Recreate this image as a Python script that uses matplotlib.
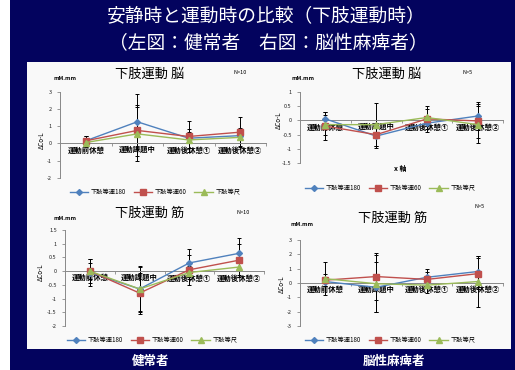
# coding: utf-8
# Comparison of rest and exercise (lower limb), healthy vs. cerebral palsy

import numpy as np
import matplotlib
matplotlib.use('Agg')
from matplotlib import pyplot as plt
from matplotlib.patches import Rectangle

plt.rcParams['font.family'] = ['Noto Sans CJK JP', 'DejaVu Sans']

# Data
categories = ['運動前休憩', '運動課題中', '運動後休憩①', '運動後休憩②']
series_names = ['下肢等速180', '下肢等速60', '下肢等尺']

# healthy, brain
hb_180 = [0.15, 1.25, 0.3, 0.45]
hb_60 = [0.15, 0.75, 0.4, 0.65]
hb_iso = [0.05, 0.55, 0.2, 0.35]
hb_180_err = [0.3, 1.6, 0.55, 0.45]
hb_60_err = [0.25, 1.45, 0.9, 0.85]
hb_iso_err = [0.25, 1.55, 0.45, 0.5]

# cerebral palsy, brain
cb_180 = [0.05, -0.55, -0.1, 0.15]
cb_60 = [-0.2, -0.5, 0.05, -0.02]
cb_iso = [-0.15, -0.15, 0.1, -0.15]
cb_180_err = [0.25, 0.4, 0.2, 0.5]
cb_60_err = [0.5, 0.4, 0.45, 0.6]
cb_iso_err = [0.35, 0.75, 0.3, 0.65]

# healthy, muscle
hm_180 = [-0.05, -0.65, 0.3, 0.65]
hm_60 = [0.0, -0.8, 0.05, 0.4]
hm_iso = [0.0, -0.65, -0.05, 0.15]
hm_180_err = [0.5, 0.85, 0.5, 0.55]
hm_60_err = [0.45, 0.75, 0.55, 0.6]
hm_iso_err = [0.3, 0.8, 0.25, 0.3]

# cerebral palsy, muscle
cm_180 = [0.1, -0.3, 0.4, 0.8]
cm_60 = [0.2, 0.45, 0.25, 0.65]
cm_iso = [0.3, -0.05, -0.15, 0.1]
cm_180_err = [0.3, 1.75, 0.6, 1.1]
cm_60_err = [0.4, 1.65, 0.55, 1.1]
cm_iso_err = [1.15, 2.0, 0.55, 1.75]

W, H = 515.0, 370.0
colors = ['#4F81BD', '#C0504D', '#9BBB59']
markers = ['D', 's', '^']
msizes = [3, 4.5, 4.5]


def fx(px):
    return px / W


def fy(py):
    return 1 - py / H


def panel(box, series, errs, ylim, ystep, title, title_xy, n_text, n_xy,
          unit_xy, ylab_xy, leg_xy, xlabel_xy=None):
    x0, y0, x1, y1 = box
    ax = fig.add_axes([fx(x0), fy(y1), fx(x1 - x0), (y1 - y0) / H])
    ax.set_facecolor('none')
    x = np.arange(len(categories))
    for i in range(3):
        ax.errorbar(x, series[i], yerr=errs[i], fmt='none', ecolor='black',
                    elinewidth=0.7, capsize=1.5, capthick=0.7, zorder=2)
    for i in range(3):
        ax.plot(x, series[i], color=colors[i], marker=markers[i], ms=msizes[i],
                lw=1.0, label=series_names[i], zorder=3)
    ax.set_xlim(-0.5, 3.5)
    ax.set_ylim(ylim)
    ax.set_yticks(np.arange(ylim[0], ylim[1] + ystep / 2, ystep))
    ax.yaxis.set_major_formatter(matplotlib.ticker.FuncFormatter(lambda v, p: '%g' % v))
    ax.tick_params(axis='y', labelsize=4, length=2, width=0.6, color='#888888',
                   pad=4, labelcolor='#222222')
    ax.spines['left'].set_color('#888888')
    ax.spines['left'].set_linewidth(0.7)
    ax.spines['bottom'].set_position(('data', 0))
    ax.spines['bottom'].set_color('#888888')
    ax.spines['bottom'].set_linewidth(0.7)
    ax.spines['top'].set_visible(False)
    ax.spines['right'].set_visible(False)
    ax.set_xticks(x)
    ax.set_xticklabels(categories, fontsize=5.3, fontweight='bold')
    ax.set_xticks([0.5, 1.5, 2.5, 3.5], minor=True)
    ax.tick_params(axis='x', which='major', length=0, pad=2)
    ax.tick_params(axis='x', which='minor', length=2, width=0.6, color='#888888')
    fig.text(fx(title_xy[0]), fy(title_xy[1]), title, fontsize=9.5,
             ha='center', va='center')
    fig.text(fx(n_xy[0]), fy(n_xy[1]), n_text, fontsize=4, ha='center', va='center')
    fig.text(fx(unit_xy[0]), fy(unit_xy[1]), 'mM.mm', fontsize=4,
             fontweight='bold', ha='center', va='center')
    fig.text(fx(ylab_xy[0]), fy(ylab_xy[1]), 'ΔCo-L', fontsize=4.5,
             rotation=90, ha='center', va='center')
    if xlabel_xy is not None:
        fig.text(fx(xlabel_xy[0]), fy(xlabel_xy[1]), 'x 軸', fontsize=5,
                 fontweight='bold', ha='center', va='center')
    ax.legend(loc='center', bbox_to_anchor=(fx(leg_xy[0]), fy(leg_xy[1])),
              bbox_transform=fig.transFigure, ncol=3, frameon=False,
              fontsize=4.5, handlelength=3, columnspacing=1.2,
              handletextpad=0.4)
    return ax


fig = plt.figure(figsize=(W / 100, H / 100), dpi=100, facecolor='white')

# navy background and white panel
fig.patches.append(Rectangle((fx(10), 0), 1 - fx(10), 1, transform=fig.transFigure,
                             facecolor='#03035e', edgecolor='none', zorder=-2))
fig.patches.append(Rectangle((fx(27), fy(349)), fx(511 - 27), (349 - 62) / H,
                             transform=fig.transFigure, facecolor='#f9f9f9',
                             edgecolor='none', zorder=-1))

fig.text(fx(266), fy(16), '安静時と運動時の比較（下肢運動時）', color='white',
         fontsize=13.5, ha='center', va='center')
fig.text(fx(268), fy(44), '（左図：健常者　右図：脳性麻痺者）', color='white',
         fontsize=13.5, ha='center', va='center')
fig.text(fx(151), fy(361), '健常者', color='white', fontsize=9,
         fontweight='bold', ha='center', va='center')
fig.text(fx(394), fy(361), '脳性麻痺者', color='white', fontsize=9,
         fontweight='bold', ha='center', va='center')

panel((60, 91.5, 266, 178), [hb_180, hb_60, hb_iso], [hb_180_err, hb_60_err, hb_iso_err],
      (-2, 3), 1, '下肢運動 脳', (150, 74), 'N=10', (240, 73), (65, 79), (42, 140),
      (155, 192))
panel((300, 91.7, 503, 163.3), [cb_180, cb_60, cb_iso], [cb_180_err, cb_60_err, cb_iso_err],
      (-1.5, 1), 0.5, '下肢運動 脳', (387, 74), 'N=5', (468, 73), (303, 79), (279, 120),
      (390, 188), xlabel_xy=(400, 168))
panel((65, 230, 264, 326), [hm_180, hm_60, hm_iso], [hm_180_err, hm_60_err, hm_iso_err],
      (-2, 1.5), 0.5, '下肢運動 筋', (150, 213), 'N=10', (243, 213), (65, 218), (41, 272),
      (152, 340))
panel((300, 240, 503, 326), [cm_180, cm_60, cm_iso], [cm_180_err, cm_60_err, cm_iso_err],
      (-3, 3), 1, '下肢運動 筋', (393, 218), 'N=5', (480, 206), (302, 224), (282, 284),
      (390, 340))

fig.savefig('out.png', dpi=100, facecolor=fig.get_facecolor())
